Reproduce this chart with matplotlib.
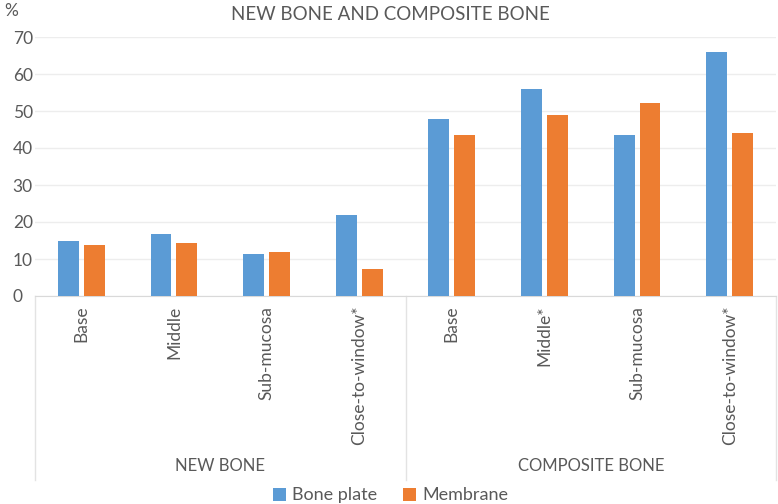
import matplotlib.pyplot as plt
import numpy as np

groups = ["NEW BONE", "COMPOSITE BONE"]
sites = ["Base", "Middle", "Sub-mucosa", "Close-to-window*",
         "Base", "Middle*", "Sub-mucosa", "Close-to-window*"]
bone_plate = [15.0, 16.8, 11.4, 22.0, 47.9, 56.0, 43.6, 66.0]
membrane = [13.9, 14.4, 11.9, 7.4, 43.5, 49.0, 52.2, 44.0]

blue = "#5B9BD5"
orange = "#ED7D31"
txt = "#595959"
grid_c = "#EDEDED"

plt.rcParams["font.family"] = ["Lato", "DejaVu Sans"]

fig = plt.figure(figsize=(7.78, 5.04), dpi=100)
ax = fig.add_axes([35 / 778, 208 / 504, 741 / 778, 259 / 504])

x = np.arange(len(sites))
w = 0.225
off = 0.14
ax.bar(x - off, bone_plate, w, color=blue, label="Bone plate", zorder=3)
ax.bar(x + off, membrane, w, color=orange, label="Membrane", zorder=3)

ax.set_xlim(-0.5, len(sites) - 0.5)
ax.set_ylim(0, 70)
ax.set_yticks(range(0, 71, 10))
ax.yaxis.grid(True, color=grid_c, lw=1, zorder=0)
for s in ["top", "right", "left"]:
    ax.spines[s].set_visible(False)
ax.spines["bottom"].set_color("#D9D9D9")
ax.tick_params(axis="y", length=0, labelsize=12.5, labelcolor=txt, pad=16)
for lab in ax.get_yticklabels():
    lab.set_horizontalalignment("left")
ax.set_xticks(x)
ax.set_xticklabels(sites, rotation=90, fontsize=12.5, color=txt)
ax.tick_params(axis="x", length=0, pad=7)

# group separators and labels below the axis
for xs in [-0.5, 3.5, 7.5]:
    ax.plot([xs, xs], [0, -0.71], transform=ax.get_xaxis_transform(),
            color="#E3E3E3", lw=1, clip_on=False)
for i, g in enumerate(groups):
    ax.text(1.5 + 4 * i, -0.655, g, transform=ax.get_xaxis_transform(),
            ha="center", va="center", fontsize=12, color=txt)

fig.text(0.502, 0.972, "NEW BONE AND COMPOSITE BONE", ha="center", va="center",
         fontsize=13.5, color=txt)
fig.text(0.005, 0.978, "%", ha="left", va="center", fontsize=12.5, color=txt)

ax.legend(loc="center", bbox_to_anchor=(0.48, -0.77), ncol=2, frameon=False,
          fontsize=13, handlelength=0.75, handleheight=0.75, columnspacing=1.4,
          handletextpad=0.35, labelcolor=txt)

fig.savefig("out.png", dpi=100)
